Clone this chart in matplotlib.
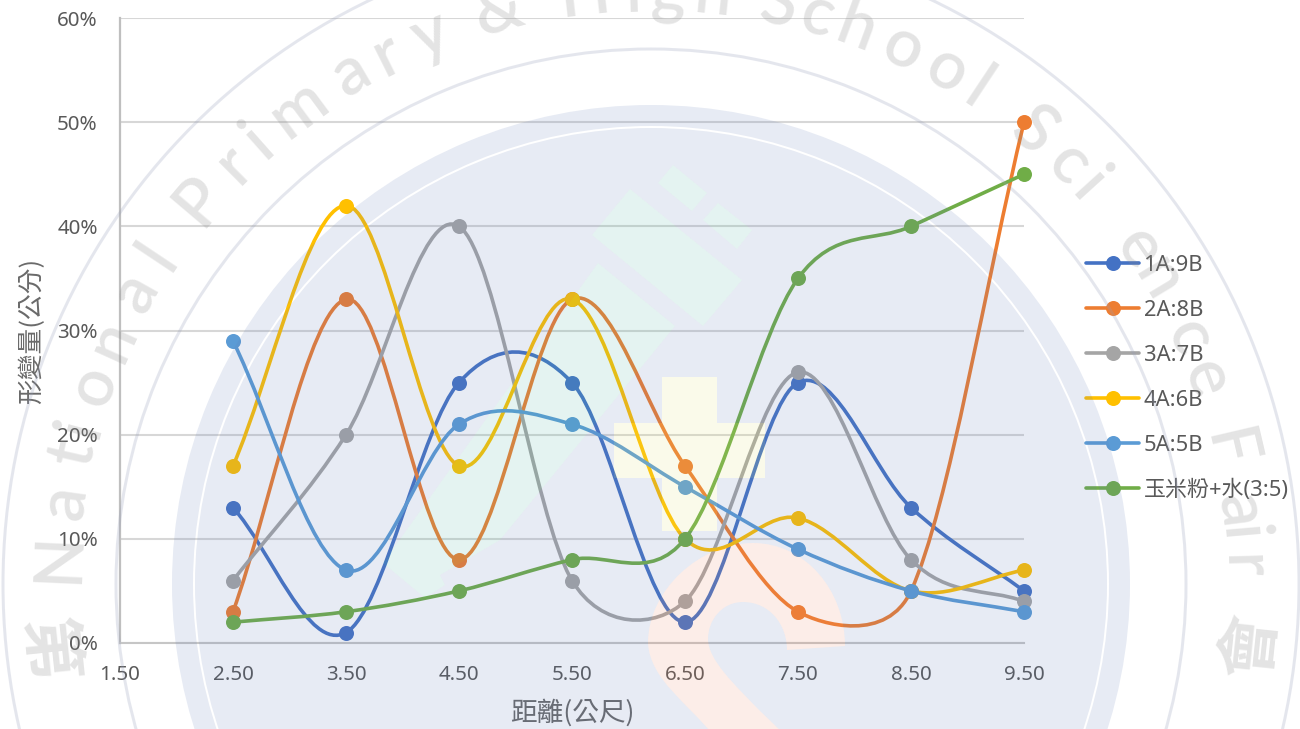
import numpy as np
import matplotlib
matplotlib.use("Agg")
import matplotlib.pyplot as plt
from matplotlib.path import Path
from matplotlib.patches import PathPatch, Wedge, Polygon
from matplotlib.lines import Line2D

# ---- data ----
distance = [2.5, 3.5, 4.5, 5.5, 6.5, 7.5, 8.5, 9.5]
s_1a9b = [13, 1, 25, 25, 2, 25, 13, 5]
s_2a8b = [3, 33, 8, 33, 17, 3, 5, 50]
s_3a7b = [6, 20, 40, 6, 4, 26, 8, 4]
s_4a6b = [17, 42, 17, 33, 10, 12, 5, 7]
s_5a5b = [29, 7, 21, 21, 15, 9, 5, 3]
s_corn = [2, 3, 5, 8, 10, 35, 40, 45]
series_labels = ["1A:9B", "2A:8B", "3A:7B", "4A:6B", "5A:5B", "玉米粉+水(3:5)"]
series_values = [s_1a9b, s_2a8b, s_3a7b, s_4a6b, s_5a5b, s_corn]
series_colors = ["#4472C4", "#ED7D31", "#A5A5A5", "#FFC000", "#5B9BD5", "#70AD47"]
x_ticks = [1.5, 2.5, 3.5, 4.5, 5.5, 6.5, 7.5, 8.5, 9.5]
y_ticks = [0, 10, 20, 30, 40, 50, 60]
x_title = "距離(公尺)"
y_title = "形變量(公分)"

W, H = 1300, 729
TEXT = "#595959"
CJK = ["Noto Sans CJK TC", "DejaVu Sans"]
LATIN = ["Noto Sans", "Noto Sans CJK TC", "DejaVu Sans"]

fig = plt.figure(figsize=(W / 100, H / 100), dpi=100, facecolor="white")
ax = fig.add_axes([120 / W, 1 - 643 / H, 904 / W, 625 / H])
ax.set_xlim(1.5, 9.5)
ax.set_ylim(0, 60)
ax.patch.set_alpha(0)


def excel_smooth(xs, ys):
    """Bezier control points in the way a spreadsheet's smoothed line does it."""
    data = np.column_stack([xs, ys]).astype(float)
    scr = ax.transData.transform(data)
    n = len(data)
    verts = [data[0]]
    codes = [Path.MOVETO]
    for i in range(n - 1):
        i0, i1, i2, i3 = max(i - 1, 0), i, i + 1, min(i + 2, n - 1)
        p0, p1, p2, p3 = data[i0], data[i1], data[i2], data[i3]
        d02 = np.linalg.norm(scr[i2] - scr[i0])
        d12 = np.linalg.norm(scr[i2] - scr[i1])
        d13 = np.linalg.norm(scr[i3] - scr[i1])
        if d02 / 6 < d12 / 2 and d13 / 6 < d12 / 2:
            f1 = 1 / 3 if i0 == i1 else 1 / 6
            f2 = 1 / 3 if i2 == i3 else 1 / 6
            b1 = p1 + (p2 - p0) * f1
            b2 = p2 + (p1 - p3) * f2
        elif d02 / 6 >= d12 / 2 and d13 / 6 >= d12 / 2:
            b1 = p1 + (p2 - p0) * d12 / 2 / d02
            b2 = p2 + (p1 - p3) * d12 / 2 / d13
        elif d02 / 6 >= d12 / 2:
            b1 = p1 + (p2 - p0) * d12 / 2 / d02
            b2 = p2 + (p1 - p3) * d12 / 2 / d13 * (d13 / d02)
        else:
            b1 = p1 + (p2 - p0) * d12 / 2 / d02 * (d02 / d13)
            b2 = p2 + (p1 - p3) * d12 / 2 / d13
        verts += [b1, b2, p2]
        codes += [Path.CURVE4] * 3
    return Path(verts, codes)


# grid and axes
ax.set_yticks(y_ticks)
ax.set_xticks(x_ticks)
ax.set_yticklabels([f"{v}%" for v in y_ticks], fontsize=14.8, color=TEXT, family=LATIN)
ax.set_xticklabels([f"{v:.2f}" for v in x_ticks], fontsize=14.8, color=TEXT, family=LATIN)
ax.tick_params(axis="both", length=0)
ax.tick_params(axis="y", pad=16)
ax.tick_params(axis="x", pad=15.5)
ax.grid(axis="y", color="#BFBFBF", lw=1.5, alpha=0.62, zorder=1)
ax.set_axisbelow(True)
for side in ("top", "right"):
    ax.spines[side].set_visible(False)
ax.spines["left"].set_color("#BFBFBF")
ax.spines["left"].set_linewidth(1.6)
ax.spines["bottom"].set_color("#C6C6C6")
ax.spines["bottom"].set_linewidth(1.5)

ax.set_xlabel(x_title, fontsize=19.2, color="#6A6A6A", family=CJK, fontweight="light")
ax.xaxis.set_label_coords(0.5, -0.112)
ax.xaxis.label.set_va("center")
ax.set_ylabel(y_title, fontsize=18.5, color="#6A6A6A", family=CJK, fontweight="light")
ax.yaxis.set_label_coords(-0.097, 0.5)
ax.yaxis.label.set_va("center")

# series
handles = []
for k, (vals, col, lab) in enumerate(zip(series_values, series_colors, series_labels)):
    ax.add_patch(PathPatch(excel_smooth(distance, vals), fc="none", ec=col, lw=2.6,
                           capstyle="round", clip_on=False, zorder=3 + k))
    ax.plot(distance, vals, ls="none", marker="o", ms=10.8, mfc=col, mec=col, mew=0,
            clip_on=False, zorder=3 + k)
    handles.append(Line2D([], [], color=col, lw=2.6, marker="o", ms=10.8, mew=0,
                          solid_capstyle="round", label=lab))

leg = fig.legend(handles=handles, loc="upper left", bbox_to_anchor=(1086 / W, 1 - 255 / H),
                 bbox_transform=fig.transFigure, frameon=False, borderpad=0, borderaxespad=0,
                 handlelength=2.42, handletextpad=0.22, labelspacing=1.09,
                 prop={"family": LATIN, "size": 15.8})
for t in leg.get_texts():
    t.set_color(TEXT)

# ---- watermark, laid over the chart ----
ov = fig.add_axes([0, 0, 1, 1], zorder=10)
ov.set_xlim(0, W)
ov.set_ylim(H, 0)
ov.axis("off")
ov.patch.set_alpha(0)
CX, CY = 651, 584


def hole_poly(pts):
    """Closed polygon path wound so that it cuts a hole in the disc."""
    pts = np.array(pts, float)
    area = 0.5 * np.sum(pts[:, 0] * np.roll(pts[:, 1], -1) - np.roll(pts[:, 0], -1) * pts[:, 1])
    if area > 0:
        pts = pts[::-1]
    return Path(np.vstack([pts, pts[0]]), [Path.MOVETO] + [Path.LINETO] * (len(pts) - 1) + [Path.CLOSEPOLY])


diamonds = [
    [(658, 183), (673, 165), (707, 193), (692, 211)],
    [(703, 220), (718, 203), (752, 230), (737, 249)],
    [(592, 235), (630, 189), (742, 280), (703, 326)],
    [(598, 263), (675, 326), (500, 540), (440, 575), (445, 585), (425, 598), (383, 563)],
]
cross = [(662, 377), (717, 377), (717, 423), (765, 423), (765, 478), (717, 478), (717, 531),
         (662, 531), (662, 478), (614, 478), (614, 423), (662, 423)]
swirl_verts = [(648, 643),
               (648, 590), (700, 543), (753, 543),
               (805, 543), (845, 590), (845, 646),
               (787, 650),
               (787, 625), (770, 602), (743, 602),
               (722, 602), (708, 620), (708, 639),
               (708, 660), (735, 685), (758, 709),
               (785, 735), (713, 735),
               (690, 705), (650, 680), (648, 643),
               (648, 643)]
swirl_codes = [Path.MOVETO] + [Path.CURVE4] * 6 + [Path.LINETO] + [Path.CURVE4] * 9 + \
              [Path.LINETO] * 2 + [Path.CURVE4] * 3 + [Path.CLOSEPOLY]
swirl_poly = Path(swirl_verts, swirl_codes).to_polygons(closed_only=True)[0]

BLUE = "#5F7AB6"
circ = Path.circle((CX, CY), 456)
holes = [hole_poly(d) for d in diamonds] + [hole_poly(cross), hole_poly(swirl_poly[:-1])]
ov.add_patch(PathPatch(Path.make_compound_path(circ, *holes), fc=BLUE, ec="none", alpha=0.15))
ov.add_patch(Wedge((CX, CY), 479, 0, 360, width=21, fc=BLUE, ec="none", alpha=0.15))
for d in diamonds:
    ov.add_patch(Polygon(d, fc="#4BAFA1", ec="none", alpha=0.15))
ov.add_patch(Polygon(cross, fc="#E4E473", ec="none", alpha=0.15))
ov.add_patch(Polygon(swirl_poly[:-1], fc="#EB8766", ec="none", alpha=0.15))
for r in (535, 648):
    ov.add_patch(Wedge((CX, CY), r + 1.5, 0, 360, width=3, fc="#979FBB", ec="none", alpha=0.25))

letters = [("N", 53, 557), ("a", 68, 503), ("t", 73, 453), ("i", 80, 428), ("o", 97, 387),
           ("n", 118, 343), ("a", 142, 297), ("l", 157, 255),
           ("P", 190, 193), ("r", 233, 163), ("i", 260, 143), ("m", 300, 110), ("a", 353, 77),
           ("r", 387, 55), ("y", 433, 43), ("&", 500, 17), ("H", 585, -2), ("i", 633, 0),
           ("g", 667, 10), ("h", 713, 0), ("S", 777, 13), ("c", 815, 22), ("h", 855, 33),
           ("o", 897, 60), ("o", 937, 87), ("l", 970, 103), ("S", 1017, 150), ("c", 1043, 190),
           ("i", 1063, 210), ("e", 1140, 247), ("n", 1157, 280), ("c", 1190, 337), ("e", 1210, 377),
           ("F", 1237, 447), ("a", 1237, 510), ("i", 1243, 533), ("r", 1247, 567)]
RB = 573
for ch, px, py in letters:
    dx, dy = px - CX, CY - py
    phi = np.arctan2(dx, dy)
    ov.text(CX + RB * np.sin(phi), CY - RB * np.cos(phi), ch, rotation=-np.degrees(phi),
            rotation_mode="anchor", ha="center", va="baseline", fontsize=48, family="Lato",
            fontweight="semibold", color="#8C8C8C", alpha=0.23, clip_on=True)
for ch, px, py, rot in [("第", 48, 650, -84), ("會", 1251, 646, 84)]:
    ov.text(px, py, ch, rotation=rot, rotation_mode="anchor", ha="center", va="center",
            fontsize=46, family=CJK, fontweight="bold", color="#8C8C8C", alpha=0.23, clip_on=True)

fig.savefig("out.png", dpi=100)
